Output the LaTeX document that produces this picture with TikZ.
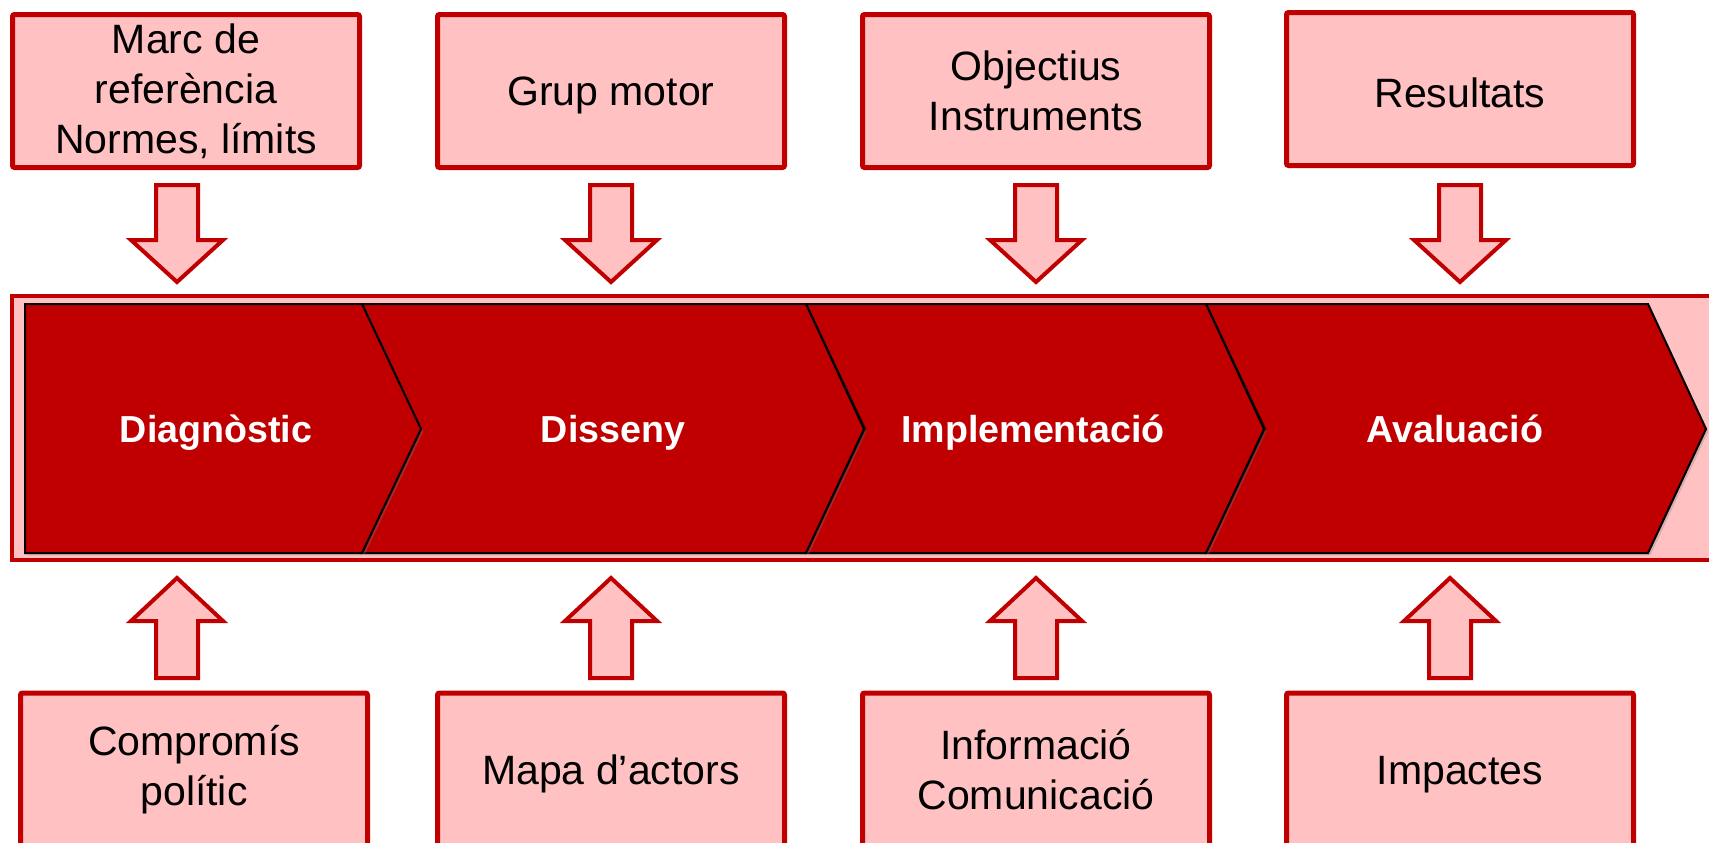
\documentclass[tikz,border=0pt]{standalone}
\usepackage{fontspec}
\setmainfont{Liberation Sans}
\usetikzlibrary{positioning,shadows}
\definecolor{darkred}{RGB}{192,0,0}
\definecolor{lightpink}{RGB}{255,193,193}
\begin{document}
\begin{tikzpicture}[x=0.5pt, y=-0.5pt,
  infobox/.style = {draw=darkred, line width=2.5pt, fill=lightpink,
    rounded corners=1pt, align=center, inner sep=0pt,
    minimum width=173.5pt, minimum height=76.5pt,
    execute at begin node={\rule{0pt}{19pt}},
    font=\fontsize{20.5}{25}\selectfont},
  stage/.style = {anchor=base, text=white,
    font=\bfseries\fontsize{18.8}{22}\selectfont},
  phase/.style = {fill=darkred, draw=black, line width=1pt,
    drop shadow={shadow xshift=1.2pt, shadow yshift=-1.2pt, opacity=0.3}},
  blockarrow/.style = {draw=darkred, line width=2pt, fill=lightpink},
  downarrow/.pic = {\draw[blockarrow] (-21,0) -- (21,0) -- (21,55) -- (46,55)
    -- (0,97) -- (-46,55) -- (-21,55) -- cycle;},
  uparrow/.pic = {\draw[blockarrow] (-21,0) -- (21,0) -- (21,-57) -- (46,-57)
    -- (0,-100) -- (-46,-57) -- (-21,-57) -- cycle;}
  ]
  \useasboundingbox (0,0) rectangle (1709,842);
  \clip (0,0) rectangle (1709,842);

  % frame round the process
  \draw[draw=darkred, line width=2pt, fill=lightpink] (12,295.5) rectangle (1740,560);

  % chevrons, last one first
  \foreach \l/\r in {1206/1648, 806/1206, 362/806}
    \draw[phase] (\l,304) -- (\r,304) -- (\r+58,429) -- (\r,553) -- (\l,553)
      -- (\l+59,429) -- cycle;
  \draw[phase] (25,304) -- (362,304) -- (421,429) -- (362,553) -- (25,553) -- cycle;

  \node[stage] (diag) at (216,442) {Diagnòstic};
  \node[stage] (disseny) at (613,442) {Disseny};
  \node[stage] (implem) at (1033,442) {Implementació};
  \node[stage] (aval) at (1455,442) {Avaluació};

  % top row
  \node[infobox] (marc) at (186,91) {Marc de\\referència\\Normes, límits};
  \node[infobox] (grup) at (611,91) {Grup motor};
  \node[infobox] (objectius) at (1036,91) {Objectius\\Instruments};
  \node[infobox] (resultats) at (1460,89) {Resultats};

  % bottom row
  \node[infobox] (comprom) at (194,769.5) {Compromís\\polític};
  \node[infobox] (mapa) at (611,769.5) {Mapa d’actors};
  \node[infobox] (informacio) at (1036,769.5) {Informació\\Comunicació};
  \node[infobox] (impactes) at (1460,769.5) {Impactes};

  % arrows into the process
  \foreach \x in {177,611,1036,1460}
    \pic at (\x,185) {downarrow};
  \foreach \x in {177,611,1036,1450}
    \pic at (\x,678) {uparrow};
\end{tikzpicture}
\end{document}
